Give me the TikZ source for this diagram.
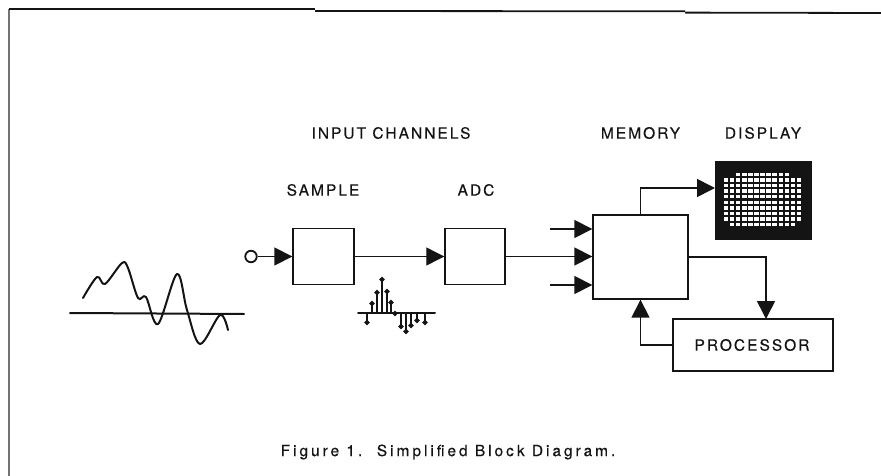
\documentclass[tikz,border=0pt]{standalone}
\usepackage{fontspec}
\setmainfont{TeX Gyre Heros}
\newfontfamily\lblfont[LetterSpace=13,FakeBold=0.25]{TeX Gyre Heros}
\newfontfamily\capfont[LetterSpace=19,FakeBold=0.4]{TeX Gyre Heros}
\usetikzlibrary{arrows.meta}
\definecolor{ink}{gray}{0.08}
\tikzset{
  x=1pt,y=-1pt,
  block/.style={draw=ink,line width=1.4pt,fill=white,inner sep=0pt,minimum width=#1},
  label text/.style={inner sep=0pt,text=ink,font=\lblfont\fontsize{15.5}{18}\selectfont},
  conn/.style={draw=ink,line width=1.6pt},
  flow/.style={conn,-{Triangle[length=18pt,width=18pt]}},
  stem/.style={draw=ink,line width=1.4pt,-{Circle[length=5pt]}},
  curve/.style={draw=ink,line width=2pt,line cap=round,line join=round}
}
\begin{document}
\begin{tikzpicture}
\useasboundingbox (0,0) rectangle (881,476);
% frame
\draw[draw=black!55,line width=1.3pt] (9,476) -- (9,9);
\draw[draw=ink,line width=1.8pt] (9,9.3) -- (315,9.3);
\draw[draw=ink,line width=1.8pt] (315,11) -- (685,11.3);
\draw[draw=ink,line width=1.8pt] (685,12.6) -- (881,13);
% blocks
\node[block=61pt,minimum height=56pt] (sample) at (323.5,256.5) {};
\node[block=60pt,minimum height=56pt] (adc) at (475,256.5) {};
\node[block=95pt,minimum height=84pt] (mem) at (640.5,257) {};
\node[block=160pt,minimum height=52pt] (proc) at (753,345) {};
\node[label text] at (752,345) {PROCESSOR};
% display
\node[draw=ink,fill=ink,minimum width=96pt,minimum height=78pt,inner sep=0pt] (disp) at (763,200) {};
\foreach \cy/\ca/\cb in {0/2/10,1/0/12,2/0/12,3/0/12,4/0/12,5/0/12,6/0/12,7/0/12,8/0/12,9/1/11}{
  \foreach \cx in {\ca,...,\cb}{
    \fill[white] ({723.6+\cx*6.1},{172.6+\cy*5.6}) rectangle +(4.6,3.4);
  }
}
% labels
\node[label text] at (391,133) {INPUT CHANNELS};
\node[label text] at (323,190) {SAMPLE};
\node[label text] at (476,190) {ADC};
\node[label text] at (640.5,133) {MEMORY};
\node[label text] at (763,133) {DISPLAY};
\node[inner sep=0pt,text=ink,font=\capfont\fontsize{15.5}{18}\selectfont] at (448,452) {Figure 1.\ \ Simplified Block Diagram.};
% connectors
\node[draw=ink,line width=1.8pt,circle,minimum size=11.5pt,inner sep=0pt] (inp) at (251,256.5) {};
\draw[flow] (inp) -- (sample.west);
\draw[flow,line width=1.2pt] (sample.east) -- (adc.west);
\draw[flow] (adc.east) -- (mem.west |- adc.east);
\coordinate (m1) at (550,229);
\coordinate (m3) at (550,285);
\draw[flow] (m1) -- (mem.west |- m1);
\draw[flow] (m3) -- (mem.west |- m3);
\coordinate (dispin) at (715,188);
\draw[flow] (mem.north) |- (dispin);
\coordinate (procin) at (766,319);
\draw[flow] (mem.east) -| (procin);
\draw[flow] (proc.west) -| (mem.south);
% analogue signal
\coordinate (axL) at (70,313);
\coordinate (axR) at (244,314);
\draw[curve] (axL) -- (axR);
\draw[curve] plot[smooth,tension=0.55] coordinates {(83,298) (97,277) (105,284) (122,263) (128,268) (138,298) (146,297) (158,324) (177,274) (187,310) (200,344) (220,315) (228,330)};
% sampled signal
\coordinate (sL) at (358,313);
\coordinate (sR) at (435,313);
\draw[curve] (sL) -- (sR);
\foreach \sx/\sy in {367/325,372/301,377/290,382/277,387/289,391/300,395/311,401/329,406/334,411/328,417/323,425/325}{
  \coordinate (st) at (\sx,\sy);
  \draw[stem] (st |- sL) -- (st);
}
\end{tikzpicture}
\end{document}
